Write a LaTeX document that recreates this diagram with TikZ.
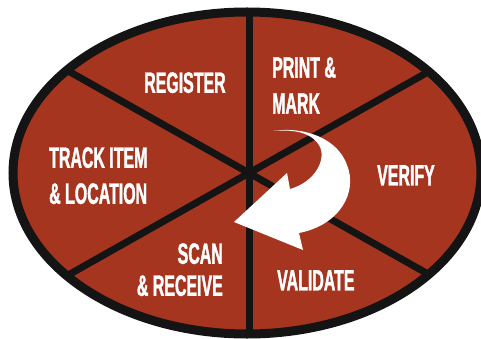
\documentclass[tikz,border=0pt]{standalone}
\usepackage{fontspec}
\newfontfamily\lab{Liberation Sans}[FakeStretch=0.54, FakeBold=1.2]
\definecolor{rust}{RGB}{166,53,31}
\definecolor{ink}{RGB}{20,20,20}
\tikzset{
  divider/.style={draw=ink, line width=7pt},
  rim/.style={draw=ink, line width=9pt},
  lbl/.style={text=white, inner sep=0pt, font={\lab\bfseries\fontsize{29.5}{36}\selectfont}},
  turnarrow/.style={fill=white, draw=none}
}
\begin{document}
\begin{tikzpicture}[x=1pt,y=-1pt]
\useasboundingbox (0,0) rectangle (481,339);
\fill[rust] (247,173) ellipse [x radius=234pt, y radius=161pt];
\coordinate (c) at (249,173);
\coordinate (t) at (249,-20);
\coordinate (b) at (249,360);
\coordinate (ul) at (-109,-29);
\coordinate (ur) at (607,-29);
\coordinate (ll) at (-109,375);
\coordinate (lr) at (607,375);
\begin{scope}
\clip (247,173) ellipse [x radius=234pt, y radius=161pt];
\draw[divider] (c) -- (t);
\draw[divider] (c) -- (b);
\draw[divider] (c) -- (ul);
\draw[divider] (c) -- (ur);
\draw[divider] (c) -- (ll);
\draw[divider] (c) -- (lr);
\end{scope}
\fill[turnarrow] (273,131)
  .. controls (305,126) and (338,139) .. (347,165)
  .. controls (358,192) and (340,225) .. (299,233)
  -- (303,250) -- (234,222) -- (287,173) -- (290,189)
  .. controls (315,182) and (326,160) .. (320,147)
  .. controls (313,133) and (295,129) .. (273,131) -- cycle;
\draw[rim] (247,173) ellipse [x radius=234pt, y radius=161pt];
\node[lbl, anchor=north west] (register) at (144,72) {REGISTER};
\node[lbl, anchor=north west, align=left] (print) at (272,57) {PRINT \&\\MARK};
\node[lbl, anchor=north west, align=left] (track) at (49,147) {TRACK ITEM\\\& LOCATION};
\node[lbl, anchor=north west] (verify) at (377,165) {VERIFY};
\node[lbl, anchor=north east, align=right, font={\lab\bfseries\fontsize{29.5}{32}\selectfont}] (scan) at (223,243) {SCAN\\\& RECEIVE};
\node[lbl, anchor=north west] (validate) at (277,270) {VALIDATE};
\end{tikzpicture}
\end{document}
